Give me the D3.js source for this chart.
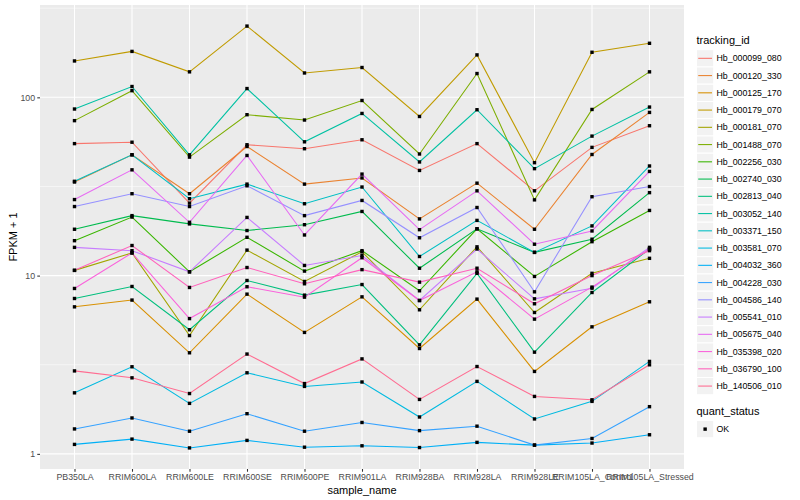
<!DOCTYPE html>
<html>
<head>
<meta charset="utf-8">
<script src="https://cdn.jsdelivr.net/npm/d3@7"></script>
<style>
  body { margin: 0; background: #fff; }
  text { font-family: "Liberation Sans", Arial, sans-serif; }
</style>
</head>
<body>
<svg id="chart" width="800" height="500"></svg>
<script>
// samples on the x axis
const samples = ["PB350LA", "RRIM600LA", "RRIM600LE", "RRIM600SE", "RRIM600PE", "RRIM901LA",
    "RRIM928BA", "RRIM928LA", "RRIM928LE", "RRIM105LA_Control", "RRIM105LA_Stressed"];

const trackingIds = ["Hb_000099_080", "Hb_000120_330", "Hb_000125_170", "Hb_000179_070", "Hb_000181_070",
    "Hb_001488_070", "Hb_002256_030", "Hb_002740_030", "Hb_002813_040", "Hb_003052_140",
    "Hb_003371_150", "Hb_003581_070", "Hb_004032_360", "Hb_004228_030", "Hb_004586_140",
    "Hb_005541_010", "Hb_005675_040", "Hb_035398_020", "Hb_036790_100", "Hb_140506_010"];

const seriesColors = ["#F8766D", "#EA8331", "#D89000", "#C09B00", "#A3A500", "#7CAE00", "#39B600",
    "#00BB4E", "#00BF7D", "#00C1A3", "#00BFC4", "#00BAE0", "#00B0F6", "#35A2FF", "#9590FF",
    "#C77CFF", "#E76BF3", "#FA62DB", "#FF62BC", "#FF6C91"];

// FPKM + 1, one array per gene, in sample order
const hb000099_080 = [55, 56, 25.5, 54.2, 51.5, 57.8, 38.9, 55, 29.9, 52.4, 69.3];
const hb000120_330 = [33.5, 47.6, 28.8, 53, 32.6, 35.3, 20.8, 33, 18.2, 47.8, 82.3];
const hb000125_170 = [6.68, 7.29, 3.69, 7.87, 4.8, 7.6, 3.9, 7.38, 2.9, 5.16, 7.13];
const hb000179_070 = [160, 181, 139, 251, 137, 147, 78.1, 173, 43, 179, 201];
const hb000181_070 = [10.7, 13.4, 4.61, 13.9, 9.27, 13.6, 6.43, 14.5, 6.21, 10.3, 12.5];
const hb001488_070 = [74, 109, 46.2, 79.9, 74.6, 96, 48.1, 136, 26.6, 85.5, 139];
const hb002256_030 = [15.7, 21.3, 10.5, 16.4, 10.6, 13.8, 8.22, 18.3, 9.89, 15.5, 23.2];
const hb002740_030 = [18.2, 21.7, 19.5, 17.9, 19.3, 22.9, 11, 18.3, 13.5, 16, 29.2];
const hb002813_040 = [7.44, 8.69, 4.97, 9.39, 7.77, 8.91, 4.09, 10.3, 3.72, 8.04, 14.1];
const hb003052_140 = [86, 115, 47.6, 112, 56.3, 81.2, 43.4, 85.2, 39.8, 60.6, 88.2];
const hb003371_150 = [33.8, 47.6, 27, 32.6, 25.3, 31.4, 12.8, 20.4, 13.5, 19, 41.2];
const hb003581_070 = [2.2, 3.08, 1.92, 2.85, 2.39, 2.53, 1.61, 2.55, 1.57, 1.97, 3.3];
const hb004032_360 = [1.13, 1.21, 1.08, 1.19, 1.09, 1.11, 1.085, 1.16, 1.12, 1.15, 1.28];
const hb004228_030 = [1.38, 1.59, 1.34, 1.68, 1.34, 1.5, 1.35, 1.43, 1.12, 1.22, 1.84];
const hb004586_140 = [24.4, 28.8, 24.4, 31.9, 21.7, 26.4, 16.3, 24.1, 8.11, 27.7, 31.6];
const hb005541_010 = [14.4, 13.8, 10.5, 21.2, 11.4, 12.97, 7.25, 14.1, 7.41, 8.5, 14.4];
const hb005675_040 = [26.7, 39.2, 19.9, 47.2, 16.9, 37.1, 18.1, 29.9, 15, 17.8, 38.4];
const hb035398_020 = [8.47, 13.4, 5.74, 8.66, 7.57, 12.6, 7.25, 10.5, 5.7, 8.62, 14.1];
const hb036790_100 = [10.7, 14.75, 8.58, 11.1, 9, 10.8, 9.19, 11, 6.95, 10, 13.8];
const hb140506_010 = [2.92, 2.67, 2.18, 3.63, 2.48, 3.41, 2.02, 3.09, 2.1, 2.01, 3.16];

const seriesValues = [hb000099_080, hb000120_330, hb000125_170, hb000179_070, hb000181_070,
    hb001488_070, hb002256_030, hb002740_030, hb002813_040, hb003052_140,
    hb003371_150, hb003581_070, hb004032_360, hb004228_030, hb004586_140,
    hb005541_010, hb005675_040, hb035398_020, hb036790_100, hb140506_010];

const yTicks = [1, 10, 100];
const quantLevels = ["OK"];

const svg = d3.select("#chart");
const panel = {left: 40, top: 5, right: 684, bottom: 469};
const dot = 3.4;

const series = trackingIds.map((id, i) => ({
    id: id,
    color: seriesColors[i],
    points: samples.map((s, j) => ({sample: s, value: seriesValues[i][j]}))
}));

// x: discrete, ggplot expands by 0.6 of a step
const x = d3.scalePoint()
    .domain(samples)
    .range([panel.left, panel.right])
    .padding(0.6);

// y: log10, 5% expansion in log space
const allVals = seriesValues.flat();
const lmin = Math.log10(d3.min(allVals)), lmax = Math.log10(d3.max(allVals));
const pad = (lmax - lmin) * 0.05;
const y = d3.scaleLog()
    .domain([Math.pow(10, lmin - pad), Math.pow(10, lmax + pad)])
    .range([panel.bottom, panel.top]);

svg.append("rect").attr("width", 800).attr("height", 500).attr("fill", "#fff");

svg.append("rect")
    .attr("x", panel.left).attr("y", panel.top)
    .attr("width", panel.right - panel.left).attr("height", panel.bottom - panel.top)
    .attr("fill", "#EBEBEB");

// minor grid halfway between decades
const minorTicks = [];
for (let k = -1; k <= 3; k++) {
    const v = Math.pow(10, k + 0.5);
    if (v > y.domain()[0] && v < y.domain()[1]) minorTicks.push(v);
}
const grid = svg.append("g").attr("stroke", "#fff").attr("fill", "none");
grid.selectAll("line.minor")
    .data(minorTicks)
    .join("line")
    .attr("class", "minor")
    .attr("x1", panel.left).attr("x2", panel.right)
    .attr("y1", d => y(d)).attr("y2", d => y(d))
    .attr("stroke-width", 0.53);
grid.selectAll("line.majorY")
    .data(yTicks)
    .join("line")
    .attr("class", "majorY")
    .attr("x1", panel.left).attr("x2", panel.right)
    .attr("y1", d => y(d)).attr("y2", d => y(d))
    .attr("stroke-width", 1.07);
grid.selectAll("line.majorX")
    .data(samples)
    .join("line")
    .attr("class", "majorX")
    .attr("x1", d => x(d)).attr("x2", d => x(d))
    .attr("y1", panel.top).attr("y2", panel.bottom)
    .attr("stroke-width", 1.07);

const line = d3.line()
    .x(d => x(d.sample))
    .y(d => y(d.value));

svg.append("g")
    .attr("fill", "none")
    .attr("stroke-width", 1.07)
    .selectAll("path")
    .data(series)
    .join("path")
    .attr("stroke", d => d.color)
    .attr("d", d => line(d.points));

svg.append("g")
    .attr("fill", "#000")
    .selectAll("rect")
    .data(series.flatMap(s => s.points))
    .join("rect")
    .attr("x", d => x(d.sample) - dot / 2)
    .attr("y", d => y(d.value) - dot / 2)
    .attr("width", dot).attr("height", dot);

// axes
const yAxis = svg.append("g")
    .attr("transform", `translate(${panel.left},0)`)
    .call(d3.axisLeft(y).tickValues(yTicks).tickFormat(d3.format("d")).tickSize(2.74).tickPadding(2.2));
const xAxis = svg.append("g")
    .attr("transform", `translate(0,${panel.bottom})`)
    .call(d3.axisBottom(x).tickSize(2.74).tickPadding(2.2));

[xAxis, yAxis].forEach(ax => {
    ax.select(".domain").remove();
    ax.selectAll(".tick line").attr("stroke", "#333333").attr("stroke-width", 1.07);
    ax.selectAll(".tick text")
        .attr("fill", "#4D4D4D")
        .style("font-size", "8.8px")
        .style("font-family", '"Liberation Sans", Arial, sans-serif');
});

svg.append("text")
    .attr("x", (panel.left + panel.right) / 2)
    .attr("y", 493.5)
    .attr("text-anchor", "middle")
    .style("font-size", "11px")
    .text("sample_name");

svg.append("text")
    .attr("transform", `translate(16.5,${(panel.top + panel.bottom) / 2}) rotate(-90)`)
    .attr("text-anchor", "middle")
    .style("font-size", "11px")
    .text("FPKM + 1");

// legend: tracking_id
const legX = 696.5, keySize = 17.25, legTop = 49.7;
svg.append("text")
    .attr("x", legX).attr("y", 44)
    .style("font-size", "11px")
    .text("tracking_id");

const keys = svg.append("g")
    .selectAll("g")
    .data(series)
    .join("g")
    .attr("transform", (d, i) => `translate(${legX},${legTop + i * keySize})`);
keys.append("rect")
    .attr("width", keySize).attr("height", keySize)
    .attr("fill", "#F2F2F2").attr("stroke", "#fff").attr("stroke-width", 1);
keys.append("line")
    .attr("x1", keySize * 0.1).attr("x2", keySize * 0.9)
    .attr("y1", keySize / 2).attr("y2", keySize / 2)
    .attr("stroke", d => d.color).attr("stroke-width", 1.07);
keys.append("text")
    .attr("x", keySize + 2.75).attr("y", keySize / 2)
    .attr("dy", "0.35em")
    .style("font-size", "8.8px")
    .text(d => d.id);

// legend: quant_status
svg.append("text")
    .attr("x", legX).attr("y", 415)
    .style("font-size", "11px")
    .text("quant_status");

const qKeys = svg.append("g")
    .selectAll("g")
    .data(quantLevels)
    .join("g")
    .attr("transform", (d, i) => `translate(${legX},${420.5 + i * keySize})`);
qKeys.append("rect")
    .attr("width", keySize).attr("height", keySize)
    .attr("fill", "#F2F2F2").attr("stroke", "#fff").attr("stroke-width", 1);
qKeys.append("rect")
    .attr("x", keySize / 2 - dot / 2).attr("y", keySize / 2 - dot / 2)
    .attr("width", dot).attr("height", dot)
    .attr("fill", "#000");
qKeys.append("text")
    .attr("x", keySize + 2.75).attr("y", keySize / 2)
    .attr("dy", "0.35em")
    .style("font-size", "8.8px")
    .text(d => d);
</script>
</body>
</html>
